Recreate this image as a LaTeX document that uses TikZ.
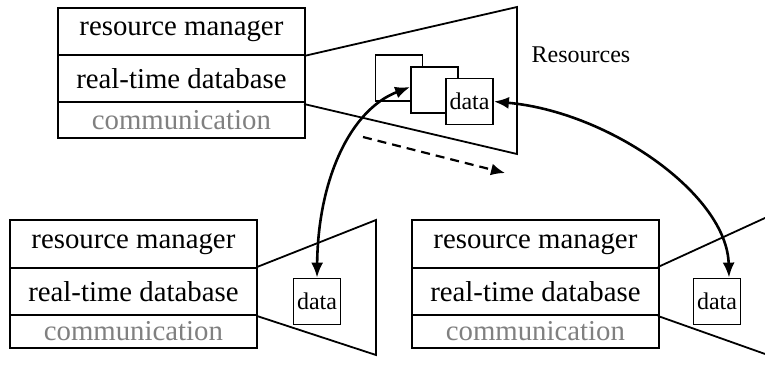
\documentclass[tikz,border=0pt]{standalone}
\usepackage{fontspec}
\setmainfont{Liberation Serif}
\usetikzlibrary{arrows.meta}
\begin{document}
\begin{tikzpicture}[x=1pt,y=-1pt,
  row/.style={draw, line width=1.8pt, minimum width=247pt, inner sep=0pt, anchor=north west,
    font=\fontsize{28.8}{30}\selectfont},
  commrow/.style={row, text=gray},
  databox/.style={draw, line width=1.8pt, fill=white, minimum width=47pt, minimum height=46pt,
    inner sep=0pt, font=\fontsize{24}{26}\selectfont},
  trap/.style={line width=1.8pt, line join=miter},
  link/.style={line width=2.6pt, {Latex[length=15pt,width=12pt]}-{Latex[length=15pt,width=12pt]}},
  move/.style={line width=2.2pt, dash pattern=on 9pt off 6pt, -{Latex[length=14pt,width=12pt]}}]
\useasboundingbox (0,0) rectangle (765,367);
\clip (0,0) rectangle (765,367);

% trapezoids
\draw[trap] (304,56) -- (517,7) -- (517,154) -- (304,104);
\draw[trap] (257,267) -- (376,220) -- (376,355) -- (257,316);
\draw[trap] (658,267) -- (775,213.4);
\draw[trap] (658,316) -- (775,357.5);

% top stack
\node[row, minimum height=47pt] (rm1) at (57,7) {resource manager};
\node[row, minimum height=47pt] (db1) at (57,54) {real-time database};
\node[commrow, minimum height=36pt] (cm1) at (57,101) {communication};

% bottom left stack
\node[row, minimum height=48pt] (rm2) at (9,219) {resource manager};
\node[row, minimum height=47pt] (db2) at (9,267) {real-time database};
\node[commrow, minimum height=33pt] (cm2) at (9,314) {communication};

% bottom right stack
\node[row, minimum height=48pt] (rm3) at (411,219) {resource manager};
\node[row, minimum height=47pt] (db3) at (411,267) {real-time database};
\node[commrow, minimum height=33pt] (cm3) at (411,314) {communication};

% resource boxes
\node[databox] (r1) at (399,78) {};
\node[databox] (r2) at (434.5,90) {};
\node[databox] (r3) at (469.5,101.5) {data};
\node[databox] (dl) at (317,301.5) {data};
\node[databox] (dr) at (717,301.5) {data};

\node[font=\fontsize{24}{26}\selectfont, inner sep=0pt] (res) at (581,55) {Resources};

% arrows
\draw[link] (dl.north) .. controls (318,180) and (350,110) .. ([yshift=3pt]r2.west);
\draw[link] (r3.east) .. controls (610,112) and (727,195) .. ([xshift=12pt]dr.north);

\coordinate (m1) at (363,137);
\coordinate (m2) at (505,173);
\draw[move] (m1) -- (m2);
\end{tikzpicture}
\end{document}
